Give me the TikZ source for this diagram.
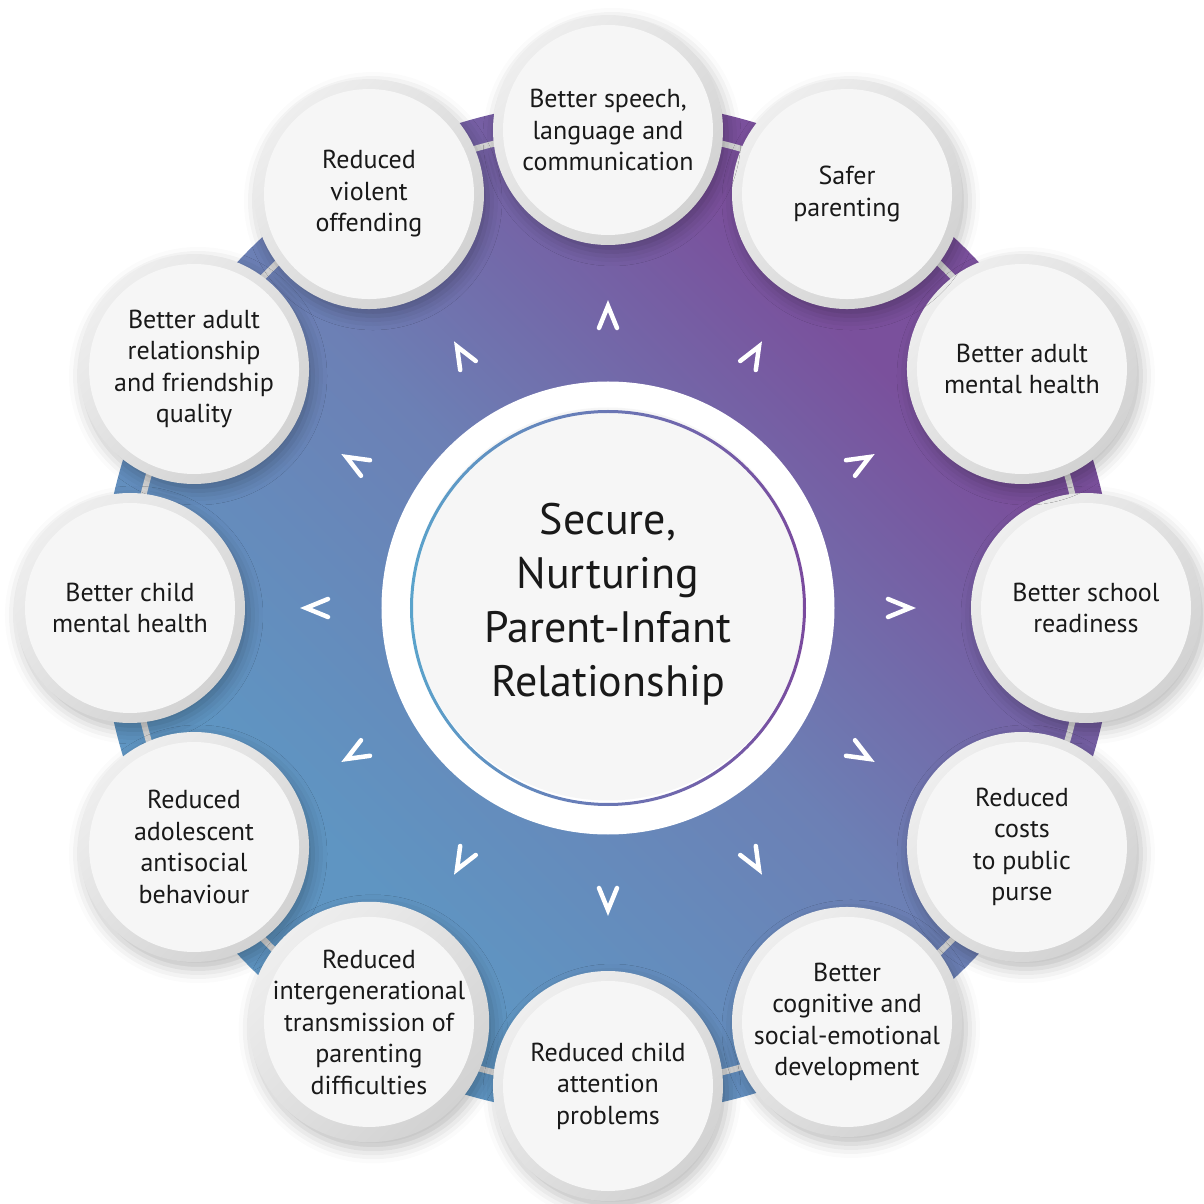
\documentclass[tikz,border=0pt]{standalone}
\usepackage{fontspec}
\setmainfont{PT Sans}
\usetikzlibrary{shadows.blur}

\definecolor{discblue}{HTML}{5F95C2}
\definecolor{discmid}{HTML}{6C80B5}
\definecolor{discpurple}{HTML}{7A509C}
\definecolor{paper}{HTML}{F6F6F6}
\definecolor{rimlight}{HTML}{EEEEEE}
\definecolor{rimdark}{HTML}{D2D2D2}
\definecolor{trackgray}{HTML}{DADADA}
\definecolor{ringblue}{HTML}{5AA3CB}
\definecolor{ringpurple}{HTML}{7A4A9E}
\pgfdeclarehorizontalshading{discshade}{100bp}{color(0bp)=(discblue); color(32bp)=(discblue); color(50bp)=(discmid); color(68bp)=(discpurple); color(100bp)=(discpurple)}

\begin{document}
\begin{tikzpicture}[x=1pt, y=1pt]
    \tikzstyle{outcome}=[circle,inner sep=0pt,minimum size=230pt,align=center,text=black!90,
        font=\fontsize{26}{31.5}\selectfont,
        top color=rimlight,bottom color=rimdark,shading angle=45,
        path picture={\fill[paper] (path picture bounding box.center) circle (105pt);},
        blur shadow={shadow xshift=4pt,shadow yshift=-7pt,shadow blur radius=14pt,shadow opacity=26}]
    \tikzstyle{halo}=[circle,fill=white,minimum size=453pt,inner sep=0pt]
    \tikzstyle{core}=[circle,fill=paper,minimum size=393pt,inner sep=0pt,align=center,text=black!90,
        font=\fontsize{44}{54}\selectfont]
    \tikzstyle{chevron}=[white,line width=4.5pt,line cap=round]
    \useasboundingbox (-608,-596) rectangle (595,608);
    \shade[shading=discshade,shading angle=45] (0,0) circle (507);
    \draw[trackgray,line width=6pt] (0,0) circle (478);
    \node[halo] (halo) at (0,0) {};
    \node[core] (core) at (0,4) {Secure,\\Nurturing\\Parent-Infant\\Relationship};
    \shade[left color=ringblue,right color=ringpurple,even odd rule] (0,0) circle (198) (0,0) circle (195);
    \foreach \a in {0,30,...,330}
        \draw[chevron,rotate=\a] (280,-9) -- (302,0) -- (280,9);
    \node[outcome] (school) at (0:478) {Better school\\readiness};
    \node[outcome] (adultmh) at (30:478) {Better adult\\mental health};
    \node[outcome] (safer) at (60:478) {Safer\\parenting};
    \node[outcome] (speech) at (90:478) {Better speech,\\language and\\communication};
    \node[outcome] (violence) at (120:478) {Reduced\\violent\\offending};
    \node[outcome] (friends) at (150:478) {Better adult\\relationship\\and friendship\\quality};
    \node[outcome] (childmh) at (180:478) {Better child\\mental health};
    \node[outcome] (antisocial) at (210:478) {Reduced\\adolescent\\antisocial\\behaviour};
    \node[outcome] (intergen) at (240:478) {Reduced\\intergenerational\\transmission of\\parenting\\difficulties};
    \node[outcome] (attention) at (270:478) {Reduced child\\attention\\problems};
    \node[outcome] (cognitive) at (300:478) {Better\\cognitive and\\social-emotional\\development};
    \node[outcome] (costs) at (330:478) {Reduced\\costs\\to public\\purse};
\end{tikzpicture}
\end{document}
